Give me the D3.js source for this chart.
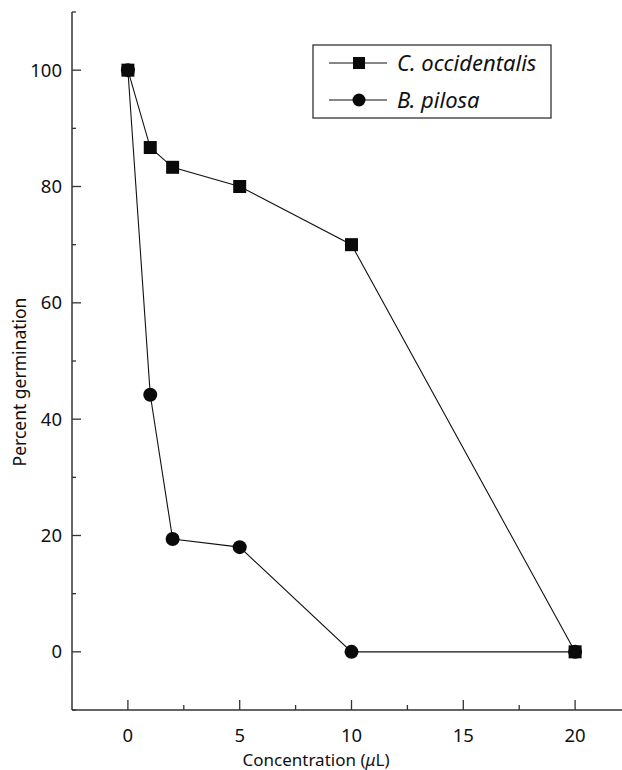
<!DOCTYPE html>
<html>
<head>
<meta charset="utf-8">
<script src="https://cdn.jsdelivr.net/npm/d3@7"></script>
<style>
body { margin: 0; background: #fff; }
text { font-family: "Noto Sans", "Open Sans", sans-serif; fill: #111; }
</style>
</head>
<body>
<svg id="chart" width="622" height="770"></svg>
<script>
var concentrations = [0, 1, 2, 5, 10, 20];
var occidentalis = [100, 86.7, 83.3, 80, 70, 0];
var pilosa = [100, 44.2, 19.4, 18, 0, 0];
var xTicks = [0, 5, 10, 15, 20];
var xMinor = [2.5, 7.5, 12.5, 17.5];
var yTicks = [0, 20, 40, 60, 80, 100];
var yMinor = [-10, 10, 30, 50, 70, 90, 110];
var seriesNames = ["C. occidentalis", "B. pilosa"];

var svg = d3.select("#chart");
var AXIS_COLOR = "#333";

var x = d3.scaleLinear().domain([-2.5, 22.5]).range([72, 631]);
var y = d3.scaleLinear().domain([-10, 110]).range([710, 12]);

// axes lines
svg.append("line").attr("x1", 72).attr("x2", 72).attr("y1", y(110)).attr("y2", y(-10))
	.attr("stroke", AXIS_COLOR).attr("stroke-width", 1.5);
svg.append("line").attr("x1", 72).attr("x2", 622).attr("y1", y(-10)).attr("y2", y(-10))
	.attr("stroke", AXIS_COLOR).attr("stroke-width", 1.5);

// y ticks (inward)
svg.selectAll("line.ymaj").data(yTicks).enter().append("line")
	.attr("x1", 72).attr("x2", 81)
	.attr("y1", function(d) { return y(d); }).attr("y2", function(d) { return y(d); })
	.attr("stroke", AXIS_COLOR).attr("stroke-width", 1.3);
svg.selectAll("line.ymin").data(yMinor).enter().append("line")
	.attr("x1", 72).attr("x2", 76)
	.attr("y1", function(d) { return y(d); }).attr("y2", function(d) { return y(d); })
	.attr("stroke", AXIS_COLOR).attr("stroke-width", 1.3);
svg.selectAll("text.ylab").data(yTicks).enter().append("text")
	.attr("x", 62).attr("y", function(d) { return y(d); })
	.attr("dy", "0.36em").attr("text-anchor", "end")
	.style("font-size", "18.5px")
	.text(function(d) { return d; });

// x ticks (inward)
svg.selectAll("line.xmaj").data(xTicks).enter().append("line")
	.attr("x1", function(d) { return x(d); }).attr("x2", function(d) { return x(d); })
	.attr("y1", y(-10)).attr("y2", y(-10) - 10)
	.attr("stroke", AXIS_COLOR).attr("stroke-width", 1.3);
svg.selectAll("line.xmin").data(xMinor).enter().append("line")
	.attr("x1", function(d) { return x(d); }).attr("x2", function(d) { return x(d); })
	.attr("y1", y(-10)).attr("y2", y(-10) - 5)
	.attr("stroke", AXIS_COLOR).attr("stroke-width", 1.3);
svg.selectAll("text.xlab").data(xTicks).enter().append("text")
	.attr("x", function(d) { return x(d); }).attr("y", 742)
	.attr("text-anchor", "middle")
	.style("font-size", "18.5px")
	.text(function(d) { return d; });

// axis titles
var xt = svg.append("text").attr("x", 316).attr("y", 766).attr("text-anchor", "middle")
	.style("font-size", "17px");
xt.append("tspan").text("Concentration (");
xt.append("tspan").style("font-style", "italic").text("\u03bc");
xt.append("tspan").text("L)");
svg.append("text").attr("transform", "translate(26,382) rotate(-90)")
	.attr("text-anchor", "middle").style("font-size", "17.5px")
	.text("Percent germination");

// lines
var line = d3.line()
	.x(function(d) { return x(d[0]); })
	.y(function(d) { return y(d[1]); });
var occData = concentrations.map(function(c, i) { return [c, occidentalis[i]]; });
var pilData = concentrations.map(function(c, i) { return [c, pilosa[i]]; });

svg.append("path").datum(occData).attr("d", line)
	.attr("fill", "none").attr("stroke", "#111").attr("stroke-width", 1.1);
svg.append("path").datum(pilData).attr("d", line)
	.attr("fill", "none").attr("stroke", "#111").attr("stroke-width", 1.1);

// markers
svg.selectAll("circle.pil").data(pilData).enter().append("circle")
	.attr("cx", function(d) { return x(d[0]); }).attr("cy", function(d) { return y(d[1]); })
	.attr("r", 7).attr("fill", "#0a0a0a");
svg.selectAll("rect.occ").data(occData).enter().append("rect")
	.attr("x", function(d) { return x(d[0]) - 6.5; }).attr("y", function(d) { return y(d[1]) - 6.5; })
	.attr("width", 13).attr("height", 13).attr("fill", "#0a0a0a");

// legend
var legend = svg.append("g");
legend.append("rect").attr("x", 313).attr("y", 45).attr("width", 238).attr("height", 73)
	.attr("fill", "#fff").attr("stroke", AXIS_COLOR).attr("stroke-width", 1.3);
seriesNames.forEach(function(name, i) {
	var ly = 63 + i * 37;
	legend.append("line").attr("x1", 329).attr("x2", 387).attr("y1", ly).attr("y2", ly)
		.attr("stroke", "#111").attr("stroke-width", 1.1);
	if (i === 0) {
		legend.append("rect").attr("x", 353).attr("y", ly - 6).attr("width", 12).attr("height", 12).attr("fill", "#0a0a0a");
	} else {
		legend.append("circle").attr("cx", 359).attr("cy", ly).attr("r", 6.5).attr("fill", "#0a0a0a");
	}
	legend.append("text").attr("x", 397).attr("y", ly).attr("dy", "0.36em")
		.style("font-size", "22px").style("font-style", "italic")
		.text(name);
});
</script>
</body>
</html>
